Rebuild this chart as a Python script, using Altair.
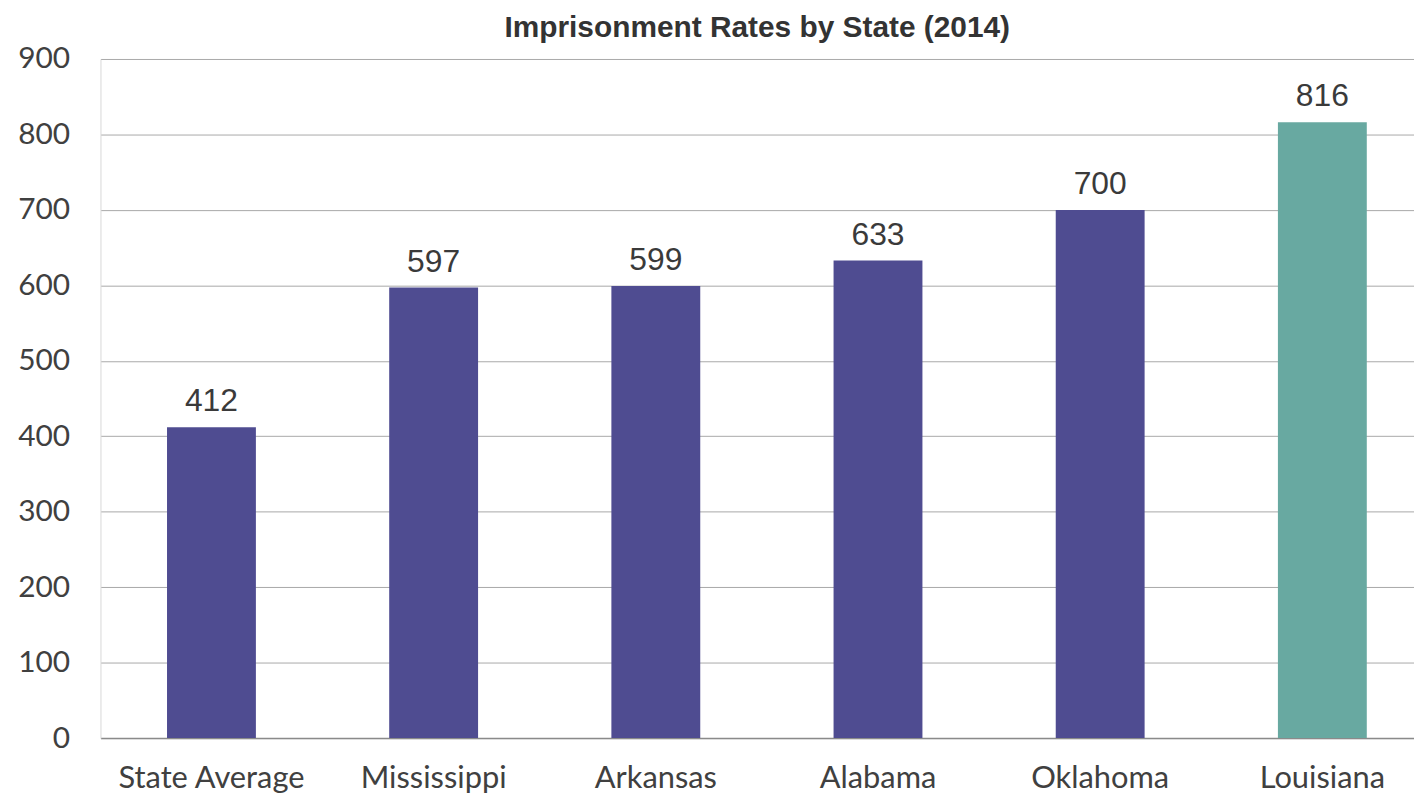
import altair as alt
import pandas as pd

states = ["State Average", "Mississippi", "Arkansas", "Alabama", "Oklahoma", "Louisiana"]
rates = [412, 597, 599, 633, 700, 816]
colors = ["#4f4c91", "#4f4c91", "#4f4c91", "#4f4c91", "#4f4c91", "#68a9a1"]

df = pd.DataFrame({"state": states, "rate": rates, "color": colors})

x = alt.X("state:N", sort=states, title=None,
          scale=alt.Scale(paddingInner=0.6, paddingOuter=0.256, align=0.585),
          axis=alt.Axis(labelAngle=0, labelFont="Lato", labelFontSize=31,
                        labelColor="#404040", labelPadding=26, ticks=False,
                        labelLimit=400,
                        domainColor="#8a8a8a", domainWidth=1.5))
y = alt.Y("rate:Q", title=None,
          scale=alt.Scale(domain=[0, 900], nice=False),
          axis=alt.Axis(values=list(range(0, 1000, 100)), labelFont="Lato",
                        labelFontSize=30, labelColor="#404040", labelPadding=31,
                        ticks=False, domainColor="#d8d8d8", gridColor="#a8a8a8",
                        gridWidth=1))

base = alt.Chart(df)
bars = base.mark_bar().encode(x=x, y=y, color=alt.Color("color:N", scale=None))
labels = base.mark_text(dy=-16, baseline="alphabetic", font="Liberation Sans",
                        fontSize=32, color="#3a3a3a").encode(
    x=alt.X("state:N", sort=states), y="rate:Q", text="rate:Q")

chart = (bars + labels).properties(
    width=1321, height=683,
    autosize=alt.AutoSizeParams(type="none"),
    padding={"left": 93, "top": 49, "right": 0, "bottom": 64},
    title=alt.TitleParams("Imprisonment Rates by State (2014)", font="Liberation Sans",
                          fontSize=30, fontWeight="bold", color="#333333",
                          offset=14, dy=13, anchor="middle"),
).configure_view(stroke=None)

chart.save("out.html", embed_options={"renderer": "svg", "actions": False})
